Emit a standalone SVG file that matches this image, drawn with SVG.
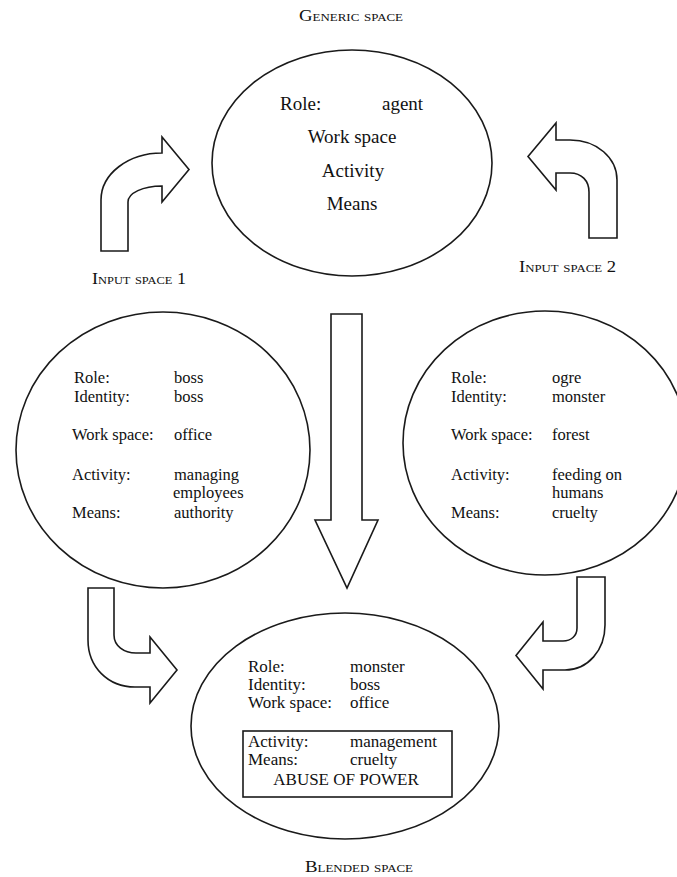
<svg xmlns="http://www.w3.org/2000/svg" width="677" height="877" viewBox="0 0 677 877">
  <style>
    .space { fill: #fff; stroke: #1a1a1a; stroke-width: 1.6; }
    .arrow { fill: #fff; stroke: #1a1a1a; stroke-width: 1.6; stroke-linejoin: miter; }
    .box { fill: none; stroke: #1a1a1a; stroke-width: 1.6; }
    text { font-family: "Liberation Serif", "DejaVu Serif", "Noto Serif", serif; fill: #111; }
    .title { font-size: 16px; font-variant: small-caps; }
    .big { font-size: 19px; }
    .attr { font-size: 16.5px; }
    .blend { font-size: 17px; }
  </style>
  <rect width="677" height="877" fill="#fff"/>

  <!-- arrows between the spaces -->
  <g id="connectors">
    <!-- input space 1 to generic space -->
    <path class="arrow" d="M101,251 L128,251 L128,202 C128,193 143,186 162,186 L162,202 L189,169.5 L162,137 L162,153 C128,153 101,174 101,200 Z"/>
    <!-- input space 2 to generic space -->
    <path class="arrow" d="M617,238 L589,238 L589,192 C589,181 582,173 570,173 L556,173 L556,190 L528,156.5 L556,123 L556,140 L570,140 C597,140 617,158 617,180 Z"/>
    <!-- generic space down to blended space -->
    <path class="arrow" d="M331,314 L362,314 L362,520 L378,520 L347,588 L315,520 L331,520 Z"/>
    <!-- input space 1 to blended space -->
    <path class="arrow" d="M88,588 L114,588 L114,635 C114,646 124,653 136,653 L150,653 L150,637 L177,670 L150,703 L150,687 L135,687 C108,687 88,667 88,640 Z"/>
    <!-- input space 2 to blended space -->
    <path class="arrow" d="M577,577 L605,577 L605,625 C605,650 588,670 565,670 L543,670 L543,689 L516,655.5 L543,622 L543,641 L563,641 C571,641 577,636 577,628 Z"/>
  </g>

  <!-- generic space -->
  <g id="generic-space">
    <text class="title" x="351" y="21" text-anchor="middle" textLength="104" lengthAdjust="spacingAndGlyphs">Generic space</text>
    <ellipse class="space" cx="352" cy="163" rx="140" ry="113"/>
    <text class="big" x="280" y="110">Role:</text>
    <text class="big" x="382" y="110">agent</text>
    <text class="big" x="352" y="143" text-anchor="middle">Work space</text>
    <text class="big" x="353" y="177" text-anchor="middle">Activity</text>
    <text class="big" x="352" y="210" text-anchor="middle">Means</text>
  </g>

  <!-- input space 1 -->
  <g id="input-space-1">
    <text class="title" x="92" y="284" textLength="94" lengthAdjust="spacingAndGlyphs">Input space 1</text>
    <ellipse class="space" cx="163" cy="450" rx="147" ry="138"/>
    <text class="attr" x="74" y="383">Role:</text>
    <text class="attr" x="174" y="383">boss</text>
    <text class="attr" x="74" y="402">Identity:</text>
    <text class="attr" x="174" y="402">boss</text>
    <text class="attr" x="72" y="440">Work space:</text>
    <text class="attr" x="174" y="440">office</text>
    <text class="attr" x="72" y="480">Activity:</text>
    <text class="attr" x="174" y="480">managing</text>
    <text class="attr" x="173" y="498">employees</text>
    <text class="attr" x="72" y="518">Means:</text>
    <text class="attr" x="174" y="518">authority</text>
  </g>

  <!-- input space 2 -->
  <g id="input-space-2">
    <text class="title" x="519" y="272" textLength="97" lengthAdjust="spacingAndGlyphs">Input space 2</text>
    <ellipse class="space" cx="545" cy="443" rx="142" ry="132"/>
    <text class="attr" x="451" y="383">Role:</text>
    <text class="attr" x="552" y="383">ogre</text>
    <text class="attr" x="451" y="402">Identity:</text>
    <text class="attr" x="552" y="402">monster</text>
    <text class="attr" x="451" y="440">Work space:</text>
    <text class="attr" x="552" y="440">forest</text>
    <text class="attr" x="451" y="480">Activity:</text>
    <text class="attr" x="552" y="480">feeding on</text>
    <text class="attr" x="552" y="498">humans</text>
    <text class="attr" x="451" y="518">Means:</text>
    <text class="attr" x="552" y="518">cruelty</text>
  </g>

  <!-- blended space -->
  <g id="blended-space">
    <ellipse class="space" cx="345" cy="726" rx="154" ry="113"/>
    <text class="blend" x="248" y="672">Role:</text>
    <text class="blend" x="350" y="672">monster</text>
    <text class="blend" x="248" y="690">Identity:</text>
    <text class="blend" x="350" y="690">boss</text>
    <text class="blend" x="248" y="708">Work space:</text>
    <text class="blend" x="350" y="708">office</text>
    <rect class="box" x="243" y="731" width="209" height="66"/>
    <text class="blend" x="248" y="747">Activity:</text>
    <text class="blend" x="350" y="747">management</text>
    <text class="blend" x="248" y="765">Means:</text>
    <text class="blend" x="350" y="765">cruelty</text>
    <text class="blend" x="346" y="785" text-anchor="middle">ABUSE OF POWER</text>
    <text class="title" x="305" y="872" textLength="108" lengthAdjust="spacingAndGlyphs">Blended space</text>
  </g>
</svg>
